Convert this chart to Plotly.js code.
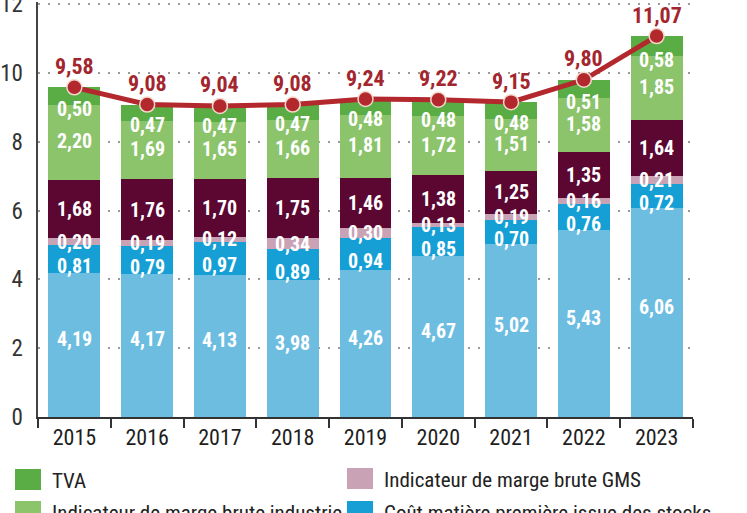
<!DOCTYPE html>
<html>
<head>
<meta charset="utf-8">
<script src="https://cdn.plot.ly/plotly-3.0.1.min.js"></script>
<style>
  html, body { margin: 0; padding: 0; background: #ffffff; }
  #chart { width: 747px; height: 513px; }
  text, tspan { font-stretch: 75%; }
</style>
</head>
<body>
<div id="chart"></div>
<script>
// ---- Data ----
const years = ['2015', '2016', '2017', '2018', '2019', '2020', '2021', '2022', '2023'];
const coutMatiere = [4.19, 4.17, 4.13, 3.98, 4.26, 4.67, 5.02, 5.43, 6.06];
const coutStocks = [0.81, 0.79, 0.97, 0.89, 0.94, 0.85, 0.70, 0.76, 0.72];
const margeGMS = [0.20, 0.19, 0.12, 0.34, 0.30, 0.13, 0.19, 0.16, 0.21];
const autresCouts = [1.68, 1.76, 1.70, 1.75, 1.46, 1.38, 1.25, 1.35, 1.64];
const margeIndustrie = [2.20, 1.69, 1.65, 1.66, 1.81, 1.72, 1.51, 1.58, 1.85];
const tva = [0.50, 0.47, 0.47, 0.47, 0.48, 0.48, 0.48, 0.51, 0.58];
const totals = [9.58, 9.08, 9.04, 9.08, 9.24, 9.22, 9.15, 9.80, 11.07];
const yTicks = [0, 2, 4, 6, 8, 10, 12];

const seriesNames = {
  tva: 'TVA',
  gms: 'Indicateur de marge brute GMS',
  industrie: 'Indicateur de marge brute industrie',
  stocks: 'Coût matière première issue des stocks',
  autres: 'Autres coûts',
  matiere: 'Coût matière première'
};

// ---- Styles ----
const FONT = 'Roboto, "Open Sans", sans-serif';
const colors = {
  matiere: '#6dbde1', stocks: '#159fd5', gms: '#c9a2b5', autres: '#5c0632',
  industrie: '#8cc46c', tva: '#5aac45', line: '#b3282d', totalText: '#a3262e'
};

const stack = [
  { key: 'matiere', values: coutMatiere, shift: 6 },
  { key: 'stocks', values: coutStocks, shift: -7 },
  { key: 'gms', values: margeGMS, shift: 0 },
  { key: 'autres', values: autresCouts, shift: 0 },
  { key: 'industrie', values: margeIndustrie, shift: 1 },
  { key: 'tva', values: tva, shift: -4, atBase: true }
];
const fmt = v => v.toFixed(2).replace('.', ',');

const traces = stack.map(s => ({
  type: 'bar', x: years, y: s.values, name: seriesNames[s.key],
  marker: { color: colors[s.key], line: { width: 0 } }, hoverinfo: 'skip'
}));
traces.push({
  type: 'scatter', mode: 'lines+markers', x: years, y: totals, name: 'Total',
  line: { color: colors.line, width: 5 },
  marker: { size: 15, color: colors.line, line: { color: '#f4d8cc', width: 1.5 } },
  hoverinfo: 'skip', cliponaxis: false
});

// ---- Annotations: segment values and totals ----
const annotations = [];
const base = years.map(() => 0);
stack.forEach(s => {
  s.values.forEach((v, i) => {
    const yPos = s.atBase ? base[i] : base[i] + v / 2;
    annotations.push({
      x: i, y: yPos, xref: 'x', yref: 'y', text: '<b>' + fmt(v) + '</b>', showarrow: false,
      yshift: s.shift, yanchor: 'middle',
      font: { family: FONT, size: 20, color: '#ffffff' }
    });
  });
  s.values.forEach((v, i) => { base[i] += v; });
});
totals.forEach((t, i) => {
  annotations.push({
    x: i, y: t, xref: 'x', yref: 'y', text: '<b>' + fmt(t) + '</b>', showarrow: false,
    yshift: 21, yanchor: 'middle',
    font: { family: FONT, size: 22, color: colors.totalText }
  });
});

// ---- Manual legend (two columns, cut by the bottom edge as in the reference) ----
const L = 38, R = 747 - 54, T = 2, B = 417;
const px = x => (x - L) / (R - L);
const py = y => (B - y) / (B - T);
const legendItems = [
  { key: 'tva', x: 15, y: 469 }, { key: 'gms', x: 347, y: 468 },
  { key: 'industrie', x: 15, y: 501 }, { key: 'stocks', x: 347, y: 501 }
];
const shapes = [];
legendItems.forEach(it => {
  shapes.push({
    type: 'rect', xref: 'paper', yref: 'paper',
    x0: px(it.x), x1: px(it.x + 26), y0: py(it.y), y1: py(it.y + 21),
    fillcolor: colors[it.key], line: { width: 0 }, layer: 'above'
  });
  annotations.push({
    xref: 'paper', yref: 'paper', x: px(it.x + 35), y: py(it.y + 12),
    xanchor: 'left', yanchor: 'middle', text: seriesNames[it.key], showarrow: false,
    font: { family: FONT, size: 21, color: '#222222' }
  });
});

const layout = {
  width: 747, height: 513,
  margin: { l: L, r: 747 - R, t: T, b: 513 - B, pad: 0 },
  paper_bgcolor: '#ffffff', plot_bgcolor: '#ffffff',
  barmode: 'stack', bargap: 0.286, showlegend: false,
  font: { family: FONT },
  xaxis: {
    type: 'category', range: [-0.5, 8.5],
    showline: true, linecolor: '#333333', linewidth: 2,
    ticks: 'outside', tickson: 'boundaries', ticklen: 9, tickwidth: 2, tickcolor: '#333333',
    tickfont: { family: FONT, size: 22, color: '#1e1e1e' },
    showgrid: false, zeroline: false, fixedrange: true
  },
  yaxis: {
    range: [0, 12.06], tickmode: 'array', tickvals: yTicks, ticktext: yTicks.map(String),
    showline: true, linecolor: '#444444', linewidth: 2.5,
    showgrid: true, gridcolor: '#9a9a9a', gridwidth: 2, griddash: '2px,8px',
    zeroline: false, ticks: '', ticklabelstandoff: 8, ticklabeloverflow: 'allow',
    tickfont: { family: FONT, size: 23, color: '#333333' }, fixedrange: true
  },
  annotations: annotations, shapes: shapes
};

Plotly.newPlot('chart', traces, layout, { displayModeBar: false, staticPlot: true });
</script>
</body>
</html>
